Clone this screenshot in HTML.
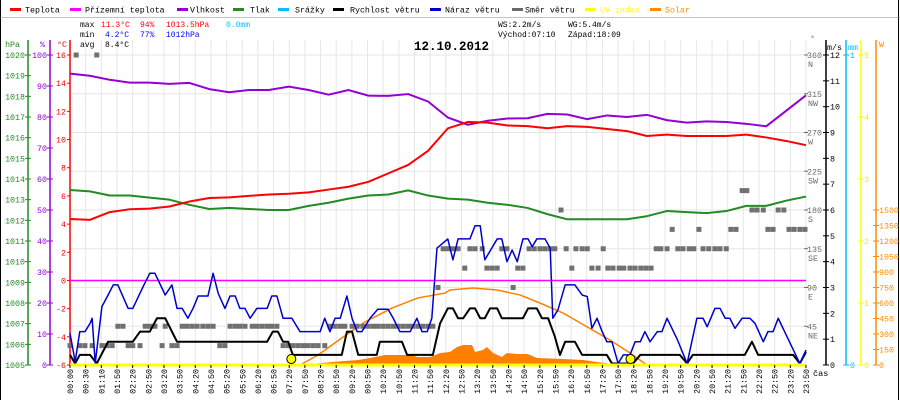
<!DOCTYPE html>
<html><head><meta charset="utf-8"><style>
body{margin:0;background:#fff}
svg{display:block;font-family:"Liberation Mono",monospace}
</style></head><body>
<svg id="c" width="900" height="400" viewBox="0 0 900 400">
<rect x="0" y="0" width="900" height="400" fill="#fff"/>
<line x1="0.5" y1="0" x2="0.5" y2="400" stroke="#000"/>
<line x1="898.5" y1="0" x2="898.5" y2="400" stroke="#000"/>
<line x1="0" y1="17.5" x2="900" y2="17.5" stroke="#888" stroke-width="0.6"/>
<g id="legend" font-size="8.3"></g>
<g id="grid"></g>
<g font-size="8">
<text x="80" y="27">max</text><text x="101" y="27" fill="#f00">11.3°C</text><text x="140" y="27" fill="#f00">94%</text><text x="166" y="27" fill="#f00">1013.5hPa</text><text x="226" y="27" fill="#00bfff">0.0mm</text>
<text x="80" y="37">min</text><text x="105" y="37" fill="#00f">4.2°C</text><text x="140" y="37" fill="#00f">77%</text><text x="166" y="37" fill="#00f">1012hPa</text>
<text x="80" y="47">avg</text><text x="105" y="47">8.4°C</text>
<text x="498" y="27">WS:2.2m/s</text><text x="568" y="27">WG:5.4m/s</text>
<text x="498" y="37">Východ:07:10</text><text x="568" y="37">Západ:18:09</text>
</g>
<text x="414" y="50" font-size="12.5" font-weight="bold">12.10.2012</text>
<g id="axes" font-size="8.3"></g>
<g id="marks"></g>
<g id="xlab" font-size="8.3"></g>
<text x="813" y="376" font-size="8.5">čas</text>
</svg>
<script>
// ---- data ----
const xLabels=["00:00","00:30","01:10","01:50","02:20","02:50","03:20","03:50","04:20","04:50","05:20","05:50","06:20","06:50","07:20","07:50","08:20","08:50","09:20","09:50","10:20","10:50","11:20","11:50","12:20","12:50","13:20","13:50","14:20","14:50","15:20","15:50","16:20","16:50","17:20","17:50","18:20","18:50","19:20","19:50","20:20","20:50","21:20","21:50","22:20","22:50","23:20","23:50"];
const tempVals=[4.36,4.3,4.85,5.05,5.1,5.25,5.6,5.85,5.9,6.0,6.1,6.15,6.25,6.45,6.65,7.0,7.6,8.2,9.2,10.8,11.25,11.2,11.0,10.95,10.8,10.95,10.9,10.75,10.6,10.25,10.35,10.25,10.25,10.25,10.35,10.15,9.9,9.6];
const humVals=[94,93.3,92,91.1,91.1,90.7,91,89,88,88.7,88.7,89.8,88.7,87.2,88.7,86.9,86.8,87.4,85,79.8,77.5,78.8,79.5,79.6,81,80.8,79.3,80.5,80,80.7,79,78.2,78.6,78.4,77.8,77,82,87];
const pressVals=[1013.47,1013.4,1013.2,1013.2,1013.1,1013.0,1012.75,1012.55,1012.6,1012.55,1012.5,1012.5,1012.7,1012.85,1013.05,1013.2,1013.25,1013.45,1013.2,1013.05,1013.0,1012.85,1012.75,1012.6,1012.3,1012.05,1012.05,1012.05,1012.05,1012.2,1012.45,1012.4,1012.35,1012.45,1012.7,1012.7,1012.95,1013.15];
const gustTimes=[0,10,19,29,39,43,49,62,74,84,93,113,122,142,155,165,185,198,208,218,229,239,249,268,278,288,301,311,321,330,340,350,363,383,392,402,414,431,447,486,495,505,515,525,538,548,558,567,583,598,618,628,641,661,674,684,694,703,713,734,744,754,777,787,797,806,830,839,849,859,869,880,890,898,907,923,933,938,948,962,981,995,1005,1014,1024,1034,1043,1053,1065,1075,1088,1098,1108,1117,1127,1141,1150,1160,1179,1199,1218,1230,1238,1253,1263,1273,1282,1292,1306,1321,1331,1347,1356,1366,1376,1393,1418,1430];
const gustVals=[1.23,0.13,1.29,1.29,1.61,1.81,0.06,2.26,2.71,3.1,3.1,2.19,2.19,3.03,3.55,3.55,2.71,3.1,2.19,2.19,1.81,2.19,2.67,2.67,3.55,2.77,2.19,2.67,2.67,2.19,2.19,1.81,2.19,2.19,2.67,2.67,1.81,1.81,1.29,1.29,1.81,1.29,1.81,1.81,2.67,1.81,1.29,1.29,1.81,2.16,2.16,1.81,1.29,1.29,1.81,1.29,1.29,1.81,4.52,4.88,4.07,4.88,4.88,5.39,5.39,4.07,4.88,4.88,4.0,4.45,4.0,4.88,4.88,4.58,4.88,4.88,4.52,1.81,2.13,3.1,3.1,2.71,2.65,1.42,1.81,1.29,0.9,0.9,0.06,0.39,0.39,0.9,0.9,1.29,0.9,1.29,1.29,1.81,1.03,0.06,1.81,1.81,1.48,2.19,2.19,1.81,1.81,1.42,1.81,1.81,1.61,0.9,1.29,1.29,1.81,1.1,0.06,0.58];
const windTimes=[0,10,19,39,52,74,122,136,155,169,185,208,383,394,404,414,424,433,528,538,548,560,596,602,645,655,705,719,734,744,754,764,777,787,797,806,816,830,839,880,890,907,917,929,942,952,962,981,995,1043,1053,1094,1108,1185,1199,1210,1311,1325,1337,1405,1418,1430];
const windVals=[0.39,0.06,0.39,0.39,0.06,0.9,0.9,1.29,1.29,1.81,1.81,0.9,0.9,1.29,1.29,0.9,0.9,0.39,0.39,1.29,1.29,0.39,0.39,0.9,0.9,0.39,0.39,1.61,2.19,2.19,1.81,1.81,2.19,2.19,1.81,1.81,2.19,2.19,1.81,1.81,2.19,2.19,1.81,1.81,1.1,0.39,0.9,0.9,0.39,0.39,0.06,0.06,0.39,0.39,0.06,0.39,0.39,0.9,0.39,0.39,0.06,0.5];
const dirTimes=[0,12,19,29,43,52,62,72,82,93,103,113,122,136,146,155,165,179,185,198,208,218,227,237,247,258,268,278,291,301,311,321,330,340,354,363,373,383,392,402,414,424,433,443,453,462,472,482,495,505,515,525,534,548,558,569,579,589,598,608,618,628,637,647,657,666,676,686,696,705,715,725,734,744,754,767,777,787,801,810,820,830,839,849,861,870,880,892,902,913,923,933,942,954,964,975,983,995,1005,1014,1026,1036,1045,1055,1067,1076,1088,1098,1109,1119,1129,1139,1148,1160,1170,1181,1191,1203,1212,1222,1230,1241,1253,1263,1275,1284,1294,1306,1315,1325,1335,1347,1356,1366,1376,1387,1397,1407,1418,1428];
const dirVals=[22.5,360,22.5,22.5,22.5,360,22.5,22.5,22.5,45,45,22.5,22.5,22.5,45,45,45,22.5,45,22.5,22.5,45,45,45,45,45,45,45,22.5,22.5,45,45,45,45,45,45,45,45,45,45,22.5,22.5,22.5,22.5,22.5,22.5,22.5,22.5,22.5,45,45,45,45,45,45,45,45,45,45,45,45,45,45,45,45,45,45,45,45,45,90,135,135,135,135,112.5,135,135,135,112.5,112.5,112.5,135,135,90,112.5,112.5,135,135,135,135,135,135,180,135,112.5,135,135,135,112.5,112.5,135,112.5,112.5,112.5,112.5,112.5,112.5,112.5,112.5,112.5,135,135,135,157.5,135,135,135,135,157.5,135,135,135,135,135,157.5,157.5,202.5,202.5,180,180,180,157.5,157.5,180,180,157.5,157.5,157.5,157.5];
const solarTimes=[447,509,560,593,612,661,676,700,719,738,752,764,781,787,802,810,822,839,849,869,888,894,907,958,997,1024,1055,1069];
const solarVals=[0,29,48,77,97,97,77,77,116,126,174,194,194,126,145,174,116,77,116,106,106,97,68,58,48,29,10,0];
const solarMaxTimes=[447,482,528,573,626,676,729,738,783,830,874,913,958,1005,1049,1088,1121];
const solarMaxVals=[0,97,261,416,552,649,697,726,745,726,678,600,503,368,242,116,0];
const sunEvents=[430,1089];
// ---- scales ----
const X0=70,X1=806,Y0=55,Y1=365;
const xT=m=>X0+m*(X1-X0)/1430;
const yT=t=>Y0+(16-t)*310/22;
const yH=h=>Y0+(100-h)*3.1;
const yP=p=>Y0+(1020-p)*310/15;
const yW=w=>Y1-w*310/12;
const yD=d=>Y1-d*310/360;
const yS=s=>Y1-s*155/1500;
const NS="http://www.w3.org/2000/svg";
function mk(tag,attrs,parent){const e=document.createElementNS(NS,tag);for(const k in attrs)e.setAttribute(k,attrs[k]);parent.appendChild(e);return e;}
const grid=document.getElementById('grid'),axes=document.getElementById('axes'),marks=document.getElementById('marks'),xlab=document.getElementById('xlab'),legend=document.getElementById('legend');
// legend
const legItems=[["Teplota","#f00",10,25],["Přízemní teplota","#f0f",70,85],["Vlhkost","#9400d3",177,190],["Tlak","#228b22",233,250],["Srážky","#00bfff",278,295],["Rychlost větru","#000",333,350],["Náraz větru","#0000cd",430,445],["Směr větru","#696969",512,525],["UV index","#ff0",585,600],["Solar","#ff8c00",650,665]];
legItems.forEach(it=>{
  const g=mk('g',{},legend);
  
  
  mk('rect',{x:it[2],y:8,width:11,height:3,fill:it[1]},g);
  const t=mk('text',{x:it[3],y:12.5,fill:(it[1]=="#ff0"||it[1]=="#ff8c00")?it[1]:"#000"},g);t.textContent=it[0];
});
// grid
const step=(X1-X0)/(xLabels.length-1);
xLabels.forEach((l,i)=>{
  const x=X0+i*step;
  const gl=mk('line',{x1:x,y1:Y0-15,x2:x,y2:Y1,stroke:'#e6e6e6'},grid);
  
  
  const t=mk('text',{x:0,y:0,transform:`translate(${x+3},369) rotate(-90)`,'text-anchor':'end'},xlab);
  
  
  t.textContent=l;
  mk('line',{x1:x,y1:Y1,x2:x,y2:Y1+3,stroke:'#000'},xlab);
});
for(let d=0;d<=360;d+=45){const y=yD(d);const hl=mk('line',{x1:X0,y1:y,x2:X1,y2:y,stroke:'#e6e6e6'},grid);}
// axes
function vaxis(x,color,name){const l=mk('line',{x1:x,y1:40,x2:x,y2:Y1,stroke:color,'stroke-width':1.5},axes);}
vaxis(28,'#228b22','pressure-axis');vaxis(50,'#9400d3','humidity-axis');vaxis(70,'#f00','temperature-axis');
vaxis(826,'#000','wind-speed-axis');vaxis(846,'#00bfff','rain-axis');vaxis(861,'#ff0','uv-axis');vaxis(876,'#ff8c00','solar-axis');
function lab(x,y,txt,color,anchor){const t=mk('text',{x:x,y:y+3,fill:color,'text-anchor':anchor||'end'},axes);t.textContent=txt;return t;}
for(let p=1005;p<=1020;p++){const y=yP(p);mk('line',{x1:25,y1:y,x2:31,y2:y,stroke:'#228b22'},axes);lab(25,y,p,'#228b22');}
for(let h=0;h<=100;h+=10){const y=yH(h);mk('line',{x1:47,y1:y,x2:53,y2:y,stroke:'#9400d3'},axes);lab(47,y,h,'#9400d3');}
for(let t=-6;t<=16;t+=2){const y=yT(t);mk('line',{x1:67,y1:y,x2:70,y2:y,stroke:'#f00'},axes);lab(66,y,t,'#f00');}
lab(20,44,'hPa','#228b22');lab(45,44,'%','#9400d3');lab(67,44,'°C','#f00');
const comp={360:'N',315:'NW',270:'W',225:'SW',180:'S',135:'SE',90:'E',45:'NE'};
for(let d=45;d<=360;d+=45){const y=yD(d);mk('line',{x1:804,y1:y,x2:808,y2:y,stroke:'#696969'},axes);lab(807,y,d,'#696969','start');lab(808,y+9,comp[d],'#696969','start');}
lab(810,38,'°','#696969','start');
for(let w=0;w<=12;w++){const y=yW(w);mk('line',{x1:823,y1:y,x2:829,y2:y,stroke:'#000'},axes);lab(830,y,w,'#000','start');}
lab(827,47,'m/s','#000','start');
[0,1].forEach(v=>{const y=Y1-v*310;mk('line',{x1:843,y1:y,x2:849,y2:y,stroke:'#00bfff'},axes);lab(850,y,v,'#00bfff','start');});
lab(848,47,'mm','#00bfff','start');
for(let u=0;u<=5;u++){const y=Y1-u*62;mk('line',{x1:858,y1:y,x2:864,y2:y,stroke:'#ff0'},axes);lab(864,y,u,'#ee0','start');}
for(let s=0;s<=1500;s+=150){const y=yS(s);mk('line',{x1:873,y1:y,x2:879,y2:y,stroke:'#ff8c00'},axes);lab(879,y,s,'#ff8c00','start');}
lab(879,44,'W','#ff8c00','start');
// marks
const solarPts=[[xT(solarTimes[0]),Y1]].concat(solarTimes.map((t,i)=>[xT(t),yS(solarVals[i])])).concat([[xT(solarTimes[solarTimes.length-1]),Y1]]);
const sa=mk('polygon',{points:solarPts.map(p=>p.join(',')).join(' '),fill:'#ff8000'},marks);


function poly(xs,ys,color,w,name){const pl=mk('polyline',{points:xs.map((x,i)=>x+','+ys[i]).join(' '),fill:'none',stroke:color,'stroke-width':w,'stroke-linejoin':'round'},marks);}
const gridT=tempVals.map((v,i)=>i*1430/(tempVals.length-1));
poly(solarMaxTimes.map(xT),solarMaxVals.map(yS),'#ff8000',1.5,'solar-max-line');
const zl=mk('line',{x1:X0,y1:yT(0),x2:X1,y2:yT(0),stroke:'#f0f','stroke-width':1.5},marks);


dirTimes.forEach((t,i)=>{const r=mk('rect',{x:xT(t)-2.5,y:yD(dirVals[i])-2.5,width:5,height:5,fill:'#707070'},marks);});
poly(gridT.map(xT),pressVals.map(yP),'#228b22',2,'pressure-line');
poly(gridT.map(xT),humVals.map(yH),'#9400d3',2,'humidity-line');
poly(gridT.map(xT),tempVals.map(yT),'#f00',2,'temperature-line');
poly(windTimes.map(xT),windVals.map(yW),'#000',2,'wind-speed-line');
poly(gustTimes.map(xT),gustVals.map(yW),'#0000cd',1.5,'wind-gust-line');
const uv=mk('line',{x1:X0,y1:Y1,x2:X1,y2:Y1,stroke:'#ff0','stroke-width':3},marks);


sunEvents.forEach(t=>{const c=mk('circle',{cx:xT(t),cy:Y1-6,r:4.5,fill:'#ff0',stroke:'#000','stroke-width':1},marks);});
</script>
</body></html>
